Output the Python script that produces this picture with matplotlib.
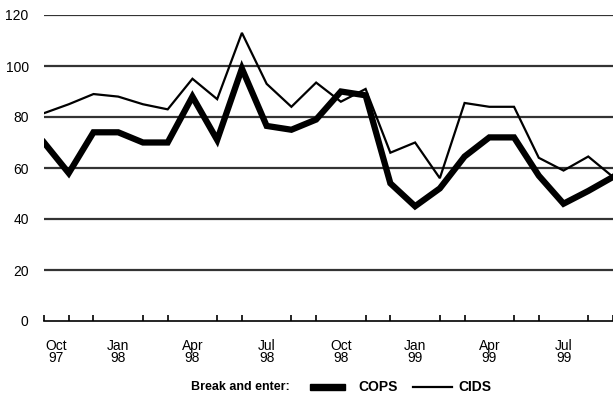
import matplotlib
matplotlib.use("Agg")
import matplotlib.pyplot as plt
from matplotlib.lines import Line2D
from matplotlib.patches import Rectangle

plt.rcParams['font.family'] = ['Liberation Sans', 'DejaVu Sans']

months = list(range(24))  # Oct 97 .. Sep 99
cops = [70, 58, 74, 74, 70, 70, 88, 71, 99, 76.5, 75, 79, 90, 88.5,
        54, 45, 52, 64.5, 72, 72, 57, 46, 51, 56.5]
cids = [81.5, 85, 89, 88, 85, 83, 95, 87, 113, 93, 84, 93.5, 86, 91,
        66, 70, 56, 85.5, 84, 84, 64, 59, 64.5, 56.5]
tick_pos = [0.5, 3, 6, 9, 12, 15, 18, 21]
tick_labels = ["Oct\n97", "Jan\n98", "Apr\n98", "Jul\n98", "Oct\n98", "Jan\n99", "Apr\n99", "Jul\n99"]
yticks = [0, 20, 40, 60, 80, 100, 120]

fig = plt.figure(figsize=(6.13, 4.05), dpi=100)
ax = fig.add_axes([44/613, (405-321)/405, (613-44)/613, (321-15)/405])

for y in yticks[1:]:
    ax.axhline(y, color='#333333', lw=1.6, zorder=1)

ax.plot(months, cids, color='black', lw=1.6, zorder=3, solid_joinstyle='miter')
ax.plot(months, cops, color='black', lw=4.5, zorder=4, solid_joinstyle='miter')

ax.set_xlim(0, 23)
ax.set_ylim(0, 120)
for s in ['top', 'right', 'left']:
    ax.spines[s].set_visible(False)
ax.spines['bottom'].set_linewidth(1.2)

ax.set_yticks(yticks)
ax.set_yticklabels([str(v) for v in yticks], fontsize=10)
ax.tick_params(axis='y', length=0, pad=11)

ax.set_xticks(months, minor=True)
ax.tick_params(axis='x', which='minor', direction='in', length=4, width=1.2)
ax.set_xticks(tick_pos)
ax.set_xticklabels(tick_labels, fontsize=10, linespacing=0.85, multialignment='center')
ax.tick_params(axis='x', which='major', length=0, pad=13)

# legend
ly = 1 - 387/405
fig.text(290/613, ly, "Break and enter:", fontsize=9, fontweight='bold',
         ha='right', va='center')
fig.add_artist(Rectangle((310/613, 1 - 390/405), 35/613, 6/405,
                         transform=fig.transFigure, color='black'))
fig.text(358/613, ly, "COPS", fontsize=10, fontweight='bold', ha='left', va='center')
fig.add_artist(Line2D([413/613, 452/613], [ly, ly],
                      transform=fig.transFigure, color='black', lw=1.6))
fig.text(458/613, ly, "CIDS", fontsize=10, fontweight='bold', ha='left', va='center')

fig.savefig("out.png", dpi=100)
